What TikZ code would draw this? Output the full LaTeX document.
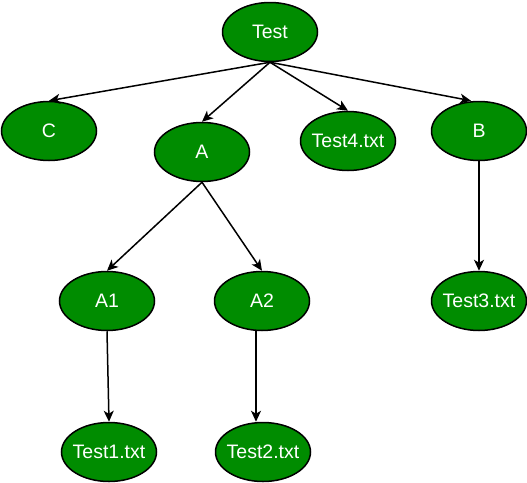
\documentclass[tikz,border=0pt]{standalone}
\usepackage{fontspec}
\setmainfont{Liberation Sans}
\usetikzlibrary{shapes.geometric,arrows.meta}
\definecolor{leafgreen}{RGB}{0,140,0}
\begin{document}
\begin{tikzpicture}[x=1pt,y=-1pt,
  dirnode/.style={ellipse,draw=black,line width=1.5pt,fill=leafgreen,
    minimum width=95pt,minimum height=59pt,inner xsep=-6pt,inner ysep=0pt,
    text=white,font=\fontsize{19.5}{21}\selectfont},
  link/.style={line width=1.5pt,-{Stealth[length=11pt,width=10pt,inset=3pt]}}]
\useasboundingbox (0,0) rectangle (527,482);
% top level
\node[dirnode] (test) at (270,32){Test};
\node[dirnode] (c) at (49,131){C};
\node[dirnode] (a) at (202,152){A};
\node[dirnode] (test4) at (348,141){Test4.txt};
\node[dirnode] (b) at (479,131){B};
% second level
\node[dirnode] (a1) at (107,301){A1};
\node[dirnode] (a2) at (262,301){A2};
\node[dirnode] (test3) at (479,301){Test3.txt};
% files
\node[dirnode] (test1) at (109,452){Test1.txt};
\node[dirnode] (test2) at (263,452){Test2.txt};
% links
\draw[link] (test.south) -- (c.north);
\draw[link] (test.south) -- (a.north);
\draw[link] (test.south) -- (test4.north);
\draw[link] (test.south) -- ([xshift=-8pt]b.north);
\draw[link] (a.south) -- (a1.north);
\draw[link] (a.south) -- (a2.north);
\draw[link] (a1.south) -- (test1.north);
\draw[link] ([xshift=-6pt]a2.south) -- ([xshift=-7pt]test2.north);
\draw[link] (b.south) -- (test3.north);
\end{tikzpicture}
\end{document}
